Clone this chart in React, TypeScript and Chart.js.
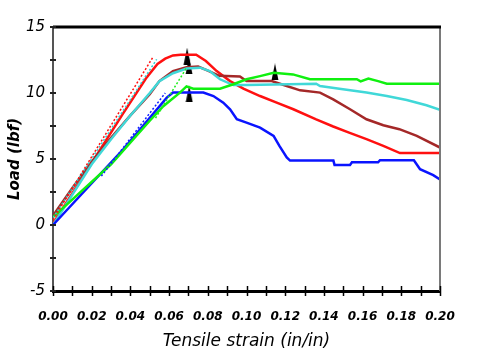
import React, { useEffect, useRef } from "react";
import { Chart, registerables } from "chart.js";

Chart.register(...registerables);

// Axis ranges and ticks
const xMin = 0;
const xMax = 0.2;
const yMin = -5;
const yMax = 15;
const xLabelStep = 0.02;
const xMinorStep = 0.01;
const yLabelStep = 5;
const yMinorStep = 2.5;

// Red specimen
const redX = [0, 0.02, 0.036, 0.048, 0.054, 0.058, 0.062, 0.066, 0.074, 0.079, 0.0846, 0.088, 0.0915, 0.0984, 0.107, 0.1156, 0.1242, 0.136, 0.1448, 0.153, 0.162, 0.1707, 0.1793, 0.2];
const redY = [0.1, 4.7, 8.4, 11.1, 12.2, 12.6, 12.85, 12.9, 12.9, 12.42, 11.66, 11.28, 10.9, 10.33, 9.77, 9.27, 8.77, 8.0, 7.46, 7.0, 6.5, 6.0, 5.45, 5.45];
const redTanX = [0, 0.052];
const redTanY = [0.4, 12.8];

// Brown specimen
const brownX = [0, 0.01, 0.02, 0.03, 0.04, 0.05, 0.055, 0.062, 0.069, 0.075, 0.08, 0.086, 0.0966, 0.1, 0.113, 0.1208, 0.1277, 0.138, 0.1448, 0.1535, 0.162, 0.1707, 0.179, 0.188, 0.2];
const brownY = [0.7, 2.8, 4.8, 6.6, 8.3, 9.9, 10.9, 11.66, 11.95, 12.0, 11.7, 11.3, 11.25, 10.9, 10.9, 10.53, 10.2, 10.03, 9.52, 8.77, 8.01, 7.56, 7.26, 6.75, 5.87];

// Cyan specimen
const cyanX = [0, 0.02, 0.03, 0.04, 0.05, 0.055, 0.062, 0.069, 0.076, 0.081, 0.0863, 0.0932, 0.1, 0.136, 0.138, 0.148, 0.162, 0.1725, 0.1828, 0.193, 0.2];
const cyanY = [0, 4.6, 6.5, 8.3, 10.0, 10.9, 11.5, 11.85, 11.92, 11.66, 11.04, 10.6, 10.6, 10.7, 10.53, 10.33, 10.03, 9.77, 9.47, 9.07, 8.72];
const cyanTanX = [0, 0.0536];
const cyanTanY = [0.55, 12.55];

// Green specimen
const greenX = [0, 0.03, 0.05, 0.057, 0.0656, 0.069, 0.0725, 0.0863, 0.0932, 0.1, 0.107, 0.114, 0.124, 0.1328, 0.157, 0.159, 0.163, 0.168, 0.1725, 0.2];
const greenY = [0.6, 4.6, 7.9, 9.0, 10.03, 10.5, 10.33, 10.33, 10.66, 11.04, 11.28, 11.54, 11.41, 11.04, 11.04, 10.88, 11.09, 10.9, 10.71, 10.71];
const greenTanX = [0.053, 0.069];
const greenTanY = [8.1, 11.9];

// Blue specimen
const blueX = [0, 0.0363, 0.0588, 0.062, 0.0777, 0.0829, 0.088, 0.0915, 0.095, 0.1, 0.107, 0.114, 0.117, 0.1208, 0.1225, 0.1449, 0.1455, 0.1535, 0.1545, 0.168, 0.169, 0.1865, 0.1897, 0.1965, 0.2];
const blueY = [0, 5.74, 9.65, 10.03, 10.03, 9.77, 9.27, 8.77, 8.01, 7.76, 7.38, 6.75, 5.99, 5.12, 4.88, 4.88, 4.55, 4.55, 4.75, 4.75, 4.91, 4.91, 4.23, 3.78, 3.45];
const blueTanX = [0.025, 0.058];
const blueTanY = [3.7, 10.0];

// Failure markers
const markerX = [0.0693, 0.0703, 0.0704, 0.1147];
const markerY = [12.8, 12.05, 9.95, 11.6];

const pts = (xs: number[], ys: number[]) => xs.map((x, i) => ({ x, y: ys[i] }));

const frameTicks = {
  id: "frameTicks",
  afterDraw(chart: any) {
    const { ctx, chartArea, scales } = chart;
    const xs = scales.x;
    const ys = scales.y;
    ctx.save();
    // right border
    ctx.strokeStyle = "#7a7a7a";
    ctx.lineWidth = 2;
    ctx.beginPath();
    ctx.moveTo(chartArea.right, chartArea.top);
    ctx.lineTo(chartArea.right, chartArea.bottom);
    ctx.stroke();
    // top border
    ctx.strokeStyle = "#000";
    ctx.lineWidth = 3;
    ctx.beginPath();
    ctx.moveTo(chartArea.left, ys.getPixelForValue(yMax));
    ctx.lineTo(chartArea.right + 1, ys.getPixelForValue(yMax));
    ctx.stroke();
    // x ticks
    ctx.lineWidth = 1.5;
    ctx.strokeStyle = "#000";
    const by = ys.getPixelForValue(yMin);
    for (let i = 0; i <= Math.round((xMax - xMin) / xMinorStep); i++) {
      const px = Math.round(xs.getPixelForValue(xMin + i * xMinorStep)) + 0.5;
      ctx.beginPath();
      ctx.moveTo(px, by - 5);
      ctx.lineTo(px, by + 5);
      ctx.stroke();
    }
    // y ticks
    ctx.strokeStyle = "#222";
    ctx.lineWidth = 2;
    const lx = xs.getPixelForValue(xMin);
    for (let i = 0; i <= Math.round((yMax - yMin) / yMinorStep); i++) {
      const py = Math.round(ys.getPixelForValue(yMin + i * yMinorStep));
      ctx.beginPath();
      ctx.moveTo(lx - 3, py);
      ctx.lineTo(lx + 3, py);
      ctx.stroke();
    }
    ctx.restore();
  },
};

export default function App() {
  const ref = useRef<HTMLCanvasElement>(null);
  useEffect(() => {
    const tri = document.createElement("canvas");
    tri.width = 8;
    tri.height = 17;
    const tc = tri.getContext("2d")!;
    tc.fillStyle = "#000";
    tc.beginPath();
    tc.moveTo(4, 0);
    tc.lineTo(7.5, 17);
    tc.lineTo(0.5, 17);
    tc.closePath();
    tc.fill();

    const mainLine = (label: string, color: string, xs: number[], ys: number[]) => ({
      label,
      data: pts(xs, ys),
      borderColor: color,
      borderWidth: 2.5,
      pointRadius: 0,
      fill: false,
      tension: 0,
    });
    const tanLine = (label: string, color: string, xs: number[], ys: number[]) => ({
      label,
      data: pts(xs, ys),
      borderColor: color,
      borderWidth: 1.5,
      borderDash: [2, 2],
      pointRadius: 0,
      fill: false,
      tension: 0,
    });

    const chart = new Chart(ref.current!, {
      type: "line",
      data: {
        datasets: [
          tanLine("red tangent", "#ff1010", redTanX, redTanY),
          tanLine("cyan tangent", "#30d0d0", cyanTanX, cyanTanY),
          tanLine("blue tangent", "#1020ff", blueTanX, blueTanY),
          tanLine("green tangent", "#20ee20", greenTanX, greenTanY),
          mainLine("green", "#10f010", greenX, greenY),
          mainLine("blue", "#0a14ff", blueX, blueY),
          mainLine("cyan", "#40d8d8", cyanX, cyanY),
          mainLine("brown", "#a42828", brownX, brownY),
          mainLine("red", "#ff1010", redX, redY),
          {
            label: "failure",
            data: pts(markerX, markerY),
            showLine: false,
            pointStyle: tri as any,
            pointRadius: 6,
            borderColor: "#000",
            backgroundColor: "#000",
          } as any,
        ],
      },
      options: {
        responsive: false,
        animation: false,
        layout: { padding: { top: 27, right: 40, bottom: 0, left: 0 } },
        plugins: { legend: { display: false }, tooltip: { enabled: false } },
        scales: {
          x: {
            type: "linear",
            min: xMin,
            max: xMax,
            afterFit: (s: any) => {
              s.height = 69;
            },
            ticks: {
              stepSize: xLabelStep,
              autoSkip: false,
              maxRotation: 0,
              padding: 19,
              color: "#000",
              font: { family: "'DejaVu Sans'", size: 12, style: "italic", weight: "bold" },
              callback: (v: any) => Number(v).toFixed(2),
            },
            grid: { display: true, drawOnChartArea: false, drawTicks: false },
            border: { display: true, color: "#000", width: 3 },
            title: {
              display: true,
              text: "Tensile strain (in/in)",
              color: "#000",
              font: { family: "'DejaVu Sans'", size: 17, style: "italic" },
              padding: { top: 0, bottom: 8 },
            },
          },
          y: {
            type: "linear",
            min: yMin,
            max: yMax,
            afterFit: (s: any) => {
              s.width = 53;
            },
            ticks: {
              stepSize: yLabelStep,
              padding: 8,
              color: "#000",
              font: { family: "'DejaVu Sans'", size: 15, style: "italic" },
              callback: (v: any) => String(v),
            },
            grid: { display: true, drawOnChartArea: false, drawTicks: false },
            border: { display: true, color: "#555", width: 2 },
            title: {
              display: true,
              text: "Load (lbf)",
              color: "#000",
              font: { family: "'DejaVu Sans'", size: 15, style: "italic", weight: "bold" },
              padding: { top: 6, bottom: 0 },
            },
          },
        },
      },
      plugins: [frameTicks],
    });
    return () => chart.destroy();
  }, []);

  return (
    <div style={{ position: "fixed", left: 0, top: 0, width: 480, height: 360, background: "#fff" }}>
      <canvas ref={ref} width={480} height={360} style={{ width: 480, height: 360, display: "block" }} />
    </div>
  );
}
